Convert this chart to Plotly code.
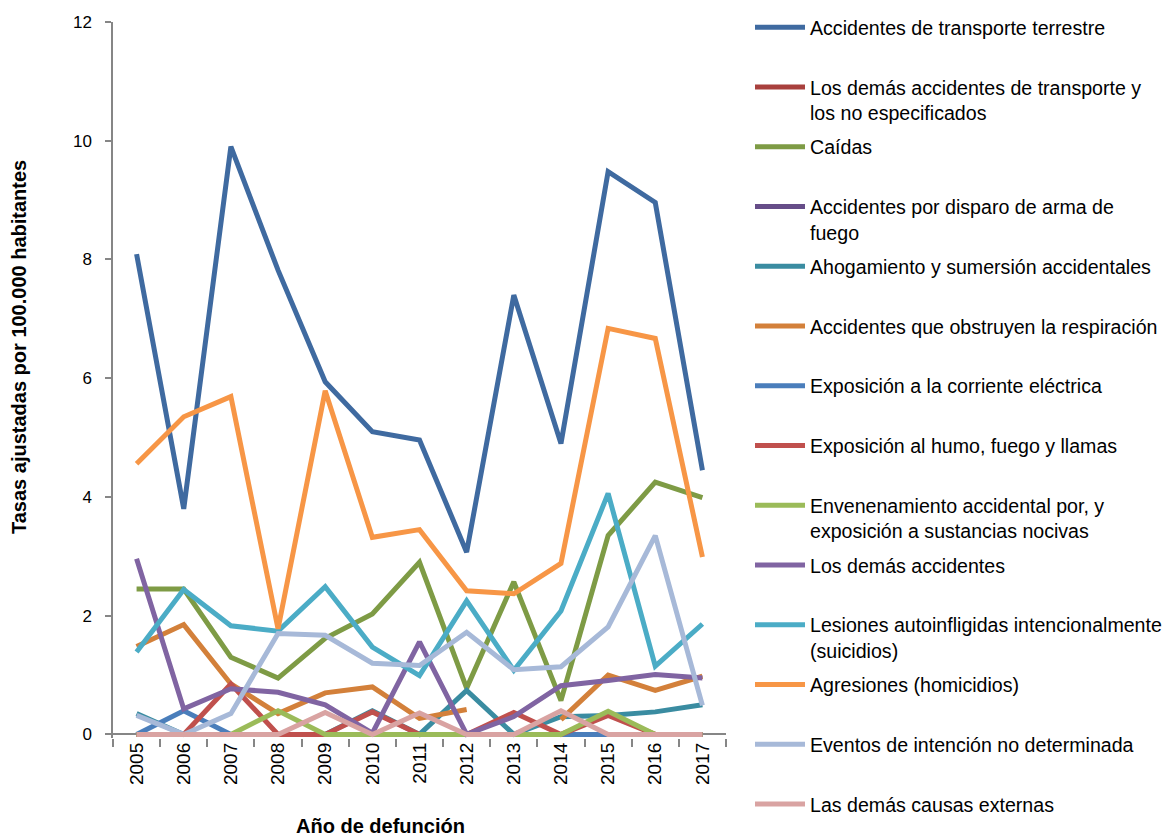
import plotly.graph_objects as go

years = ["2005", "2006", "2007", "2008", "2009", "2010", "2011", "2012", "2013", "2014", "2015", "2016", "2017"]

series_names = [
    "Accidentes de transporte terrestre",
    "Los demás accidentes de transporte y<br>los no especificados",
    "Caídas",
    "Accidentes por disparo de arma de<br>fuego",
    "Ahogamiento y sumersión accidentales",
    "Accidentes que obstruyen la respiración",
    "Exposición a la corriente eléctrica",
    "Exposición al humo, fuego y llamas",
    "Envenenamiento accidental por, y<br>exposición a sustancias nocivas",
    "Los demás accidentes",
    "Lesiones autoinfligidas intencionalmente<br>(suicidios)",
    "Agresiones (homicidios)",
    "Eventos de intención no determinada",
    "Las demás causas externas",
]

transporte_terrestre = [8.09, 3.80, 9.90, 7.82, 5.94, 5.10, 4.96, 3.07, 7.40, 4.90, 9.48, 8.96, 4.45]
demas_transporte = [0, 0, 0, 0, 0, 0, 0, 0, 0, 0, 0, 0, 0]
caidas = [2.45, 2.45, 1.30, 0.95, 1.62, 2.03, 2.90, 0.78, 2.57, 0.57, 3.35, 4.25, 3.99]
disparo = [0, 0, 0, 0, 0, 0, 0, 0, 0, 0, 0, 0, 0]
ahogamiento = [0.35, 0, 0, 0, 0, 0.40, 0, 0.74, 0, 0.30, 0.32, 0.38, 0.50]
obstruyen = [1.48, 1.85, 0.85, 0.35, 0.70, 0.80, 0.27, 0.42, None, 0.25, 1.00, 0.74, 0.98]
electrica = [0, 0.40, 0, 0, 0, 0, 0, 0, 0, 0, 0, 0, 0]
humo = [0, 0, 0.85, 0, 0, 0.38, 0, 0, 0.37, 0, 0.32, 0, 0]
envenenamiento = [0, 0, 0, 0.40, 0, 0, 0, 0, 0, 0, 0.39, 0, 0]
demas_accidentes = [2.96, 0.43, 0.77, 0.71, 0.50, 0.02, 1.56, 0.0, 0.30, 0.82, 0.91, 1.01, 0.95]
lesiones = [1.39, 2.44, 1.83, 1.74, 2.49, 1.47, 0.99, 2.25, 1.08, 2.08, 4.06, 1.15, 1.86]
agresiones = [4.56, 5.35, 5.69, 1.78, 5.79, 3.32, 3.45, 2.42, 2.37, 2.88, 6.84, 6.67, 2.99]
eventos = [0.32, 0.0, 0.35, 1.70, 1.67, 1.20, 1.16, 1.72, 1.09, 1.14, 1.81, 3.35, 0.49]
demas_causas = [0, 0, 0, 0, 0.37, 0, 0.36, 0, 0, 0.40, 0, 0, 0]

series_values = [
    transporte_terrestre, demas_transporte, caidas, disparo, ahogamiento, obstruyen,
    electrica, humo, envenenamiento, demas_accidentes, lesiones, agresiones, eventos, demas_causas,
]

colors = [
    "#3F6AA0", "#A8403D", "#7E9B45", "#664D88", "#3A8CA1", "#D3803A", "#4A7EBB",
    "#C0504D", "#9BBB59", "#8064A2", "#4BACC6", "#F79646", "#A7B9D8", "#D9A3A2",
]

FONT = "Liberation Sans, Arial, sans-serif"
W, H = 1169, 838
L, R, T, B = 113, 443, 22, 100
PW, PH = W - L - R, H - T - B

fig = go.Figure()
n = len(series_names)
for i, (name, vals, col) in enumerate(zip(series_names, series_values, colors)):
    label = name if ("<br>" in name or i == n - 1) else name + "<br> "
    fig.add_trace(go.Scatter(
        x=years, y=vals, name=label, mode="lines",
        line=dict(color=col, width=5),
        connectgaps=False, legendgroup="g%d" % i,
    ))

fig.update_layout(
    width=W, height=H,
    margin=dict(l=L, r=R, t=T, b=B, autoexpand=False),
    plot_bgcolor="white", paper_bgcolor="white",
    font=dict(family=FONT, color="#000000"),
    showlegend=True,
    legend=dict(
        xref="container", yref="container",
        x=750 / W, xanchor="left", y=1 - 8 / H, yanchor="top",
        font=dict(family=FONT, size=19.6, color="#000000"),
        valign="top", tracegroupgap=5.8, itemwidth=50, maxheight=836,
        bgcolor="rgba(0,0,0,0)",
    ),
    xaxis=dict(
        type="category", range=[-0.5, 12.5], tickson="boundaries", ticks="outside", ticklen=8,
        tickcolor="#868686", tickwidth=1.5, showline=False, showgrid=False, automargin=False,
        tickangle=-90, tickfont=dict(family=FONT, size=19, color="#000000"),
    ),
    yaxis=dict(
        range=[-0.06, 12], tickvals=[0, 2, 4, 6, 8, 10, 12], ticks="outside", ticklen=6,
        tickcolor="#868686", tickwidth=1.5, showline=True, linecolor="#868686", linewidth=1.5,
        showgrid=False, zeroline=True, zerolinecolor="#868686", zerolinewidth=1.5,
        automargin=False, ticklabelstandoff=10,
        tickfont=dict(family=FONT, size=17, color="#000000"),
    ),
    annotations=[
        dict(text="<b>Tasas ajustadas por 100.000 habitantes</b>", xref="paper", yref="paper",
             x=(19 - L) / PW, y=(H - B - 347) / PH, textangle=-90, showarrow=False,
             font=dict(family=FONT, size=20, color="#000000"), xanchor="center", yanchor="middle"),
        dict(text="<b>Año de defunción</b>", xref="paper", yref="paper",
             x=(380 - L) / PW, y=(H - B - 826) / PH, showarrow=False,
             font=dict(family=FONT, size=20, color="#000000"), xanchor="center", yanchor="middle"),
    ],
)

fig.write_html("out.html", config={"displayModeBar": False},
               post_script="document.body.style.margin='0px';")
